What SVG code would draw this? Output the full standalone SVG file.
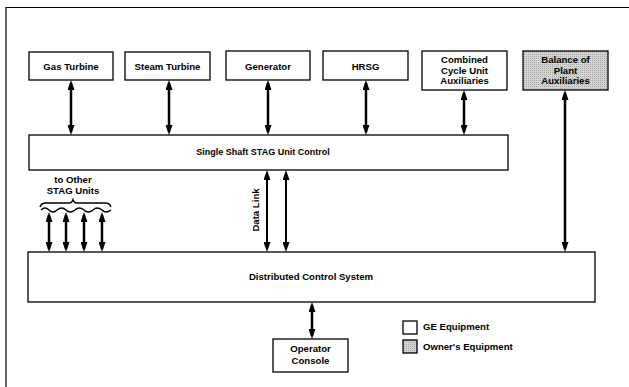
<svg xmlns="http://www.w3.org/2000/svg" width="629" height="387" viewBox="0 0 629 387">
<defs>
<marker id="ah" viewBox="0 0 10 7" refX="7" refY="3.5" markerWidth="10" markerHeight="7" markerUnits="userSpaceOnUse" orient="auto-start-reverse">
<path d="M0,0 L10,3.5 L0,7 Z" fill="#000"/>
</marker>
<pattern id="dots" width="2" height="2" patternUnits="userSpaceOnUse">
<rect width="2" height="2" fill="#d4d4d4"/>
<rect width="1" height="1" fill="#a8a8a8"/>
</pattern>
</defs>
<style>
.box{fill:#fff;stroke:#000;stroke-width:1.3}
.own{fill:url(#dots);stroke:#000;stroke-width:1.3}
.t{font-family:"Liberation Sans",Arial,sans-serif;font-weight:bold;font-size:9.6px;fill:#000;text-anchor:middle}
.tl{font-family:"Liberation Sans",Arial,sans-serif;font-weight:bold;font-size:9.6px;fill:#000}
.ar{stroke:#000;stroke-width:2.5;fill:none;marker-start:url(#ah);marker-end:url(#ah)}
.thin{stroke:#000;stroke-width:2;fill:none;marker-start:url(#ah);marker-end:url(#ah)}
</style>
<rect width="629" height="387" fill="#fff"/>
<path d="M6,387 V7.5 H629" fill="none" stroke="#000" stroke-width="1.2"/>

<g id="gas-turbine"><rect class="box" x="29" y="52" width="84" height="28"/><text class="t" x="71" y="70">Gas Turbine</text></g>
<g id="steam-turbine"><rect class="box" x="125" y="52" width="85" height="28"/><text class="t" x="167.5" y="70">Steam Turbine</text></g>
<g id="generator"><rect class="box" x="226" y="51" width="84" height="29"/><text class="t" x="268" y="70">Generator</text></g>
<g id="hrsg"><rect class="box" x="323" y="51" width="85" height="29"/><text class="t" x="365.5" y="70">HRSG</text></g>
<g id="ccua"><rect class="box" x="422" y="51" width="85" height="39"/><text class="t" x="464.5" y="63">Combined</text><text class="t" x="464.5" y="73.5">Cycle Unit</text><text class="t" x="464.5" y="84">Auxiliaries</text></g>
<g id="bop"><rect class="own" x="523" y="51" width="85" height="39"/><text class="t" x="565.5" y="63">Balance of</text><text class="t" x="565.5" y="73.5">Plant</text><text class="t" x="565.5" y="84">Auxiliaries</text></g>
<g id="stag-control"><rect class="box" x="29" y="135" width="479" height="35"/><text class="t" x="263" y="155" style="font-size:9px">Single Shaft STAG Unit Control</text></g>
<g id="dcs"><rect class="box" x="28" y="252" width="567" height="50"/><text class="t" x="311" y="280">Distributed Control System</text></g>
<g id="operator-console"><rect class="box" x="273" y="339" width="75" height="33"/><text class="t" x="310.5" y="352">Operator</text><text class="t" x="310.5" y="364">Console</text></g>
<g id="other-units"><text class="t" x="73" y="183">to Other</text><text class="t" x="73" y="194">STAG Units</text>
<path d="M40,207 Q41,203 46,203 H69 Q72,203 73,199.5 Q74,203 77,203 H105 Q110,203 111,207" fill="none" stroke="#000" stroke-width="1.3"/>
<path d="M41,210 q4,-4 8,0 q4,4 8,0 q5,-4 9,0 q4,4 9,0 q4,-4 9,0 q4,4 9,0 q4,-4 9,0 q4,4 9,0" fill="none" stroke="#000" stroke-width="1.3"/>
</g>
<g id="legend">
<rect class="box" x="403" y="321" width="14" height="13"/><text class="tl" x="423" y="330">GE Equipment</text>
<rect class="own" x="403" y="340" width="14" height="13"/><text class="tl" x="423" y="350">Owner's Equipment</text>
</g>
<g id="connectors">
<line class="ar" x1="71" y1="83" x2="71" y2="132"/>
<line class="ar" x1="169" y1="83" x2="169" y2="132"/>
<line class="ar" x1="268" y1="83" x2="268" y2="132"/>
<line class="ar" x1="366" y1="83" x2="366" y2="132"/>
<line class="ar" x1="464" y1="93" x2="464" y2="132"/>
<line class="ar" x1="565" y1="93" x2="565" y2="249"/>
<line class="thin" x1="267" y1="173" x2="267" y2="249"/>
<line class="thin" x1="286" y1="173" x2="286" y2="249"/>
<line class="ar" x1="49" y1="215" x2="49" y2="249"/>
<line class="ar" x1="66" y1="215" x2="66" y2="249"/>
<line class="ar" x1="84" y1="215" x2="84" y2="249"/>
<line class="ar" x1="102" y1="215" x2="102" y2="249"/>
<line class="ar" x1="312" y1="305" x2="312" y2="336"/>
<text class="t" transform="translate(259,210) rotate(-90)">Data Link</text>
</g>
</svg>
